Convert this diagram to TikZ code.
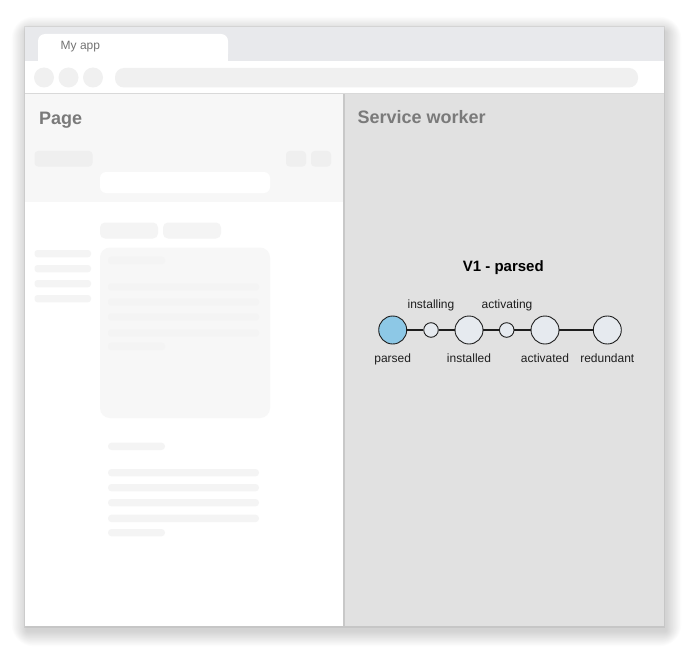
\documentclass[tikz,border=0pt]{standalone}
\usepackage{fontspec}
\setmainfont{Liberation Sans}
\definecolor{tabbar}{HTML}{E8E9EC}
\definecolor{chrome}{HTML}{F0F0F0}
\definecolor{headbg}{HTML}{F7F7F7}
\definecolor{skel}{HTML}{EFEFEF}
\definecolor{skellight}{HTML}{F4F4F4}
\definecolor{swpanel}{HTML}{E1E1E1}
\definecolor{divider}{HTML}{C8C8C8}
\definecolor{titlegray}{HTML}{7A7A7A}
\definecolor{stfill}{HTML}{E6EAEF}
\definecolor{stactive}{HTML}{8DC8E6}
\definecolor{ink}{HTML}{1E1E1E}
\begin{document}
\begin{tikzpicture}[x=1pt,y=-1pt,
  bar/.style={fill=skel,rounded corners=3.5pt},
  faint/.style={fill=skellight,rounded corners=3.5pt},
  state/.style={circle,draw=ink,line width=0.9pt,fill=stfill,minimum size=28pt,inner sep=0pt},
  trans/.style={circle,draw=ink,line width=0.9pt,fill=stfill,minimum size=14.6pt,inner sep=0pt},
  lbl/.style={font=\fontsize{12}{14}\selectfont,text=ink,anchor=base,inner sep=0pt},
  link/.style={draw=ink,line width=1.5pt},
  paneltitle/.style={font=\fontsize{18}{21}\selectfont\bfseries,text=titlegray,anchor=base west,inner sep=0pt}]
\useasboundingbox (0,0) rectangle (700,663);
\fill[white] (0,0) rectangle (700,663);

% soft drop shadow under the window
\foreach \s in {1,...,22}
  \fill[black,fill opacity=0.0065,rounded corners=\s pt]
    (25+2-0.7*\s,27+5-0.7*\s) rectangle (664+2+0.7*\s,626+5+0.7*\s);
\fill[black,fill opacity=0.06] (24,26) rectangle (665,627.5);

% window chrome: tab strip, tab, toolbar
\fill[tabbar] (25,27) rectangle (664,61);
\fill[white,rounded corners=7pt] (38,61) -- (38,34) -- (228,34) -- (228,61) -- cycle;
\fill[white] (38,55) rectangle (228,61);
\node[font=\fontsize{12}{14}\selectfont,text=black!55,anchor=base west,inner sep=0pt] (tabtitle) at (60.5,50) {My app};
\fill[white] (25,61) rectangle (664,93);
\foreach \cx in {44,68.5,93}
  \fill[chrome] (\cx,77.5) circle (10);
\fill[chrome,rounded corners=9pt] (115,68) rectangle (638,87.5);
\fill[black!15] (25,93) rectangle (664,94.5);

% page panel
\fill[white] (25,94.5) rectangle (343.5,626);
\fill[headbg] (25,94.5) rectangle (343.5,202);
\node[paneltitle] (pagetitle) at (39,124.3) {Page};

% page skeleton: header
\fill[bar] (34.5,151) rectangle (92.5,166.5);
\fill[bar] (286,151) rectangle (306,166.5);
\fill[bar] (311,151) rectangle (331,166.5);
\fill[white,rounded corners=6pt] (100,172) rectangle (270,193);

% page skeleton: tabs and side menu
\fill[skellight,rounded corners=5pt] (100,222.5) rectangle (158,238.5);
\fill[skellight,rounded corners=5pt] (163,222.5) rectangle (221,238.5);
\foreach \yy in {250,265,280,295}
  \fill[skellight,rounded corners=3pt] (34.5,\yy) rectangle (91,\yy+7.3);

% page skeleton: card
\fill[headbg,rounded corners=10pt] (100,247.5) rectangle (270,418);
\fill[skellight,rounded corners=3pt] (108,256.7) rectangle (165,264);
\foreach \yy in {283.3,298.3,313.3,329.3}
  \fill[skellight,rounded corners=3pt] (108,\yy) rectangle (259,\yy+7.4);
\fill[skellight,rounded corners=3pt] (108,342.7) rectangle (165,350);

% page skeleton: text below the card
\fill[faint] (108,442.7) rectangle (165,450);
\foreach \yy in {469,484,499,514.7}
  \fill[faint] (108,\yy) rectangle (259,\yy+7.4);
\fill[faint] (108,529) rectangle (165,536.3);

% service worker panel
\fill[swpanel] (345,94.5) rectangle (664,626);
\fill[divider] (343,94.5) rectangle (345.3,626);
\node[paneltitle] (swtitle) at (357.3,124) {Service worker};

% lifecycle diagram
\node[font=\fontsize{15}{18}\selectfont\bfseries,text=black,anchor=base,inner sep=0pt] (heading) at (503.3,271.7) {V1 - parsed};

\node[state,fill=stactive] (parsed) at (392.7,330) {};
\node[trans] (installing) at (431,330) {};
\node[state] (installed) at (469,330) {};
\node[trans] (activating) at (506.7,330) {};
\node[state] (activated) at (545,330) {};
\node[state] (redundant) at (607.3,330) {};

\draw[link] (parsed) -- (installing);
\draw[link] (installing) -- (installed);
\draw[link] (installed) -- (activating);
\draw[link] (activating) -- (activated);
\draw[link] (activated) -- (redundant);

\node[lbl] (linstalling) at (431,308.3) {installing};
\node[lbl] (lactivating) at (507,308.3) {activating};
\node[lbl] (lparsed) at (392.7,362.7) {parsed};
\node[lbl] (linstalled) at (469,362.7) {installed};
\node[lbl] (lactivated) at (545,362.7) {activated};
\node[lbl] (lredundant) at (607.3,362.7) {redundant};
\end{tikzpicture}
\end{document}
